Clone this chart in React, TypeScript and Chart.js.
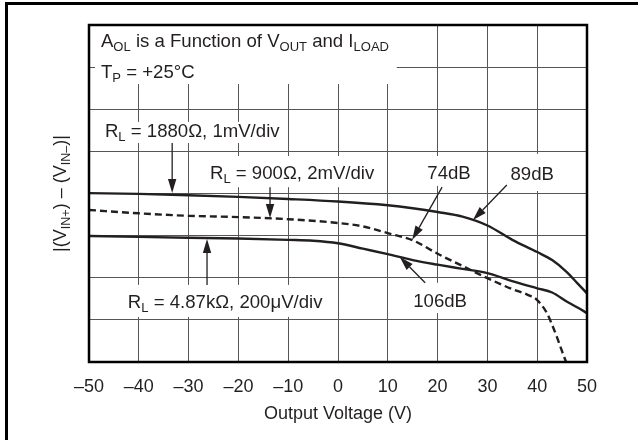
import React, { useEffect, useRef } from 'react';
import { Chart, registerables } from 'chart.js';

Chart.register(...registerables);

// ---- data (x = output voltage in V, y = divisions) ----
const xTicks = [-50, -40, -30, -20, -10, 0, 10, 20, 30, 40, 50];

const x89 = [-50, -40, -30, -20, -10, 0, 10, 15, 20, 25, 30, 35, 40, 43, 46, 48, 50];
const y89 = [4.01, 3.99, 3.96, 3.92, 3.87, 3.81, 3.72, 3.65, 3.56, 3.45, 3.24, 2.9, 2.61, 2.42, 2.13, 1.88, 1.63];

const x74 = [-50, -40, -30, -20, -10, 0, 5, 10, 15, 20, 25, 30, 35, 38, 40, 42, 43, 44, 45, 45.8];
const y74 = [3.61, 3.53, 3.47, 3.44, 3.39, 3.3, 3.22, 3.06, 2.89, 2.57, 2.28, 1.99, 1.73, 1.6, 1.47, 1.15, 0.88, 0.58, 0.25, 0];

const x106 = [-50, -40, -30, -20, -10, -5, 0, 5, 10, 15, 20, 25, 30, 35, 40, 43, 46, 48, 50];
const y106 = [2.99, 2.97, 2.95, 2.93, 2.9, 2.88, 2.82, 2.69, 2.56, 2.42, 2.31, 2.21, 2.11, 1.92, 1.75, 1.65, 1.43, 1.3, 1.16];

const FONT = '"Liberation Sans", Arial, Helvetica, sans-serif';
const INK = '#231f20';
const GRID = '#55565a';
const LABEL_SIZE = 18.6;

type Seg = { t: string; sub?: boolean };

// white boxes behind annotations: [x1, yTop, x2, yBottom] in data units
const boxes: number[][] = [
  [-48.8, 8, 11.8, 6.6],
  [-47.8, 5.7, -10.6, 5.2],
  [-26.7, 4.89, 8.4, 4.15],
  [15.5, 4.89, 28.1, 4.18],
  [33.5, 4.94, 44.6, 4.06],
  [14.5, 1.88, 26.5, 1.16],
  [-42.8, 1.83, -2.0, 1.07],
];

// annotation texts: x, y (data), align, segments
const labels: { x: number; y: number; align: 'left' | 'center'; segs: Seg[] }[] = [
  { x: -47.6, y: 7.64, align: 'left', segs: [{ t: 'A' }, { t: 'OL', sub: true }, { t: ' is a Function of V' }, { t: 'OUT', sub: true }, { t: ' and I' }, { t: 'LOAD', sub: true }] },
  { x: -47.6, y: 6.9, align: 'left', segs: [{ t: 'T' }, { t: 'P', sub: true }, { t: ' = +25°C' }] },
  { x: -46.8, y: 5.51, align: 'left', segs: [{ t: 'R' }, { t: 'L', sub: true }, { t: ' = 1880Ω, 1mV/div' }] },
  { x: -25.7, y: 4.51, align: 'left', segs: [{ t: 'R' }, { t: 'L', sub: true }, { t: ' = 900Ω, 2mV/div' }] },
  { x: 22.3, y: 4.51, align: 'center', segs: [{ t: '74dB' }] },
  { x: 39.0, y: 4.49, align: 'center', segs: [{ t: '89dB' }] },
  { x: 20.5, y: 1.47, align: 'center', segs: [{ t: '106dB' }] },
  { x: -42.2, y: 1.45, align: 'left', segs: [{ t: 'R' }, { t: 'L', sub: true }, { t: ' = 4.87kΩ, 200μV/div' }] },
];

// arrows: [xFrom, yFrom, xTip, yTip] in data units
const arrows: number[][] = [
  [-33.3, 5.2, -33.3, 4.01],
  [-13.65, 4.15, -13.65, 3.42],
  [20.9, 4.15, 14.9, 2.9],
  [33.9, 4.2, 27.1, 3.37],
  [17.5, 1.88, 12.4, 2.49],
  [-26.3, 1.83, -26.3, 2.92],
];

const yTitle: Seg[] = [{ t: '|(V' }, { t: 'IN+', sub: true }, { t: ') – (V' }, { t: 'IN–', sub: true }, { t: ')|' }];

function measureRich(ctx: CanvasRenderingContext2D, segs: Seg[], size: number) {
  let w = 0;
  for (const s of segs) {
    ctx.font = `${s.sub ? size * 0.7 : size}px ${FONT}`;
    w += ctx.measureText(s.t).width;
  }
  return w;
}

function drawRich(ctx: CanvasRenderingContext2D, segs: Seg[], x: number, yc: number, align: string, size = 18) {
  const w = measureRich(ctx, segs, size);
  let cx = align === 'center' ? x - w / 2 : x;
  const base = yc + size * 0.36;
  ctx.fillStyle = INK;
  ctx.textAlign = 'left';
  ctx.textBaseline = 'alphabetic';
  for (const s of segs) {
    ctx.font = `${s.sub ? size * 0.7 : size}px ${FONT}`;
    ctx.fillText(s.t, cx, s.sub ? base + 4 : base);
    cx += ctx.measureText(s.t).width;
  }
}

const decorPlugin = {
  id: 'decor',
  beforeDatasetsDraw(chart: any) {
    const { ctx, scales } = chart;
    const xs = scales.x, ys = scales.y;
    ctx.save();
    ctx.fillStyle = '#ffffff';
    for (const b of boxes) {
      const x1 = xs.getPixelForValue(b[0]);
      const x2 = xs.getPixelForValue(b[2]);
      const y1 = ys.getPixelForValue(b[1]);
      const y2 = ys.getPixelForValue(b[3]);
      ctx.fillRect(x1, y1, x2 - x1, y2 - y1);
    }
    ctx.restore();
  },
  afterDatasetsDraw(chart: any) {
    const { ctx, scales, chartArea } = chart;
    const xs = scales.x, ys = scales.y;
    ctx.save();
    // labels
    for (const l of labels) {
      drawRich(ctx, l.segs, xs.getPixelForValue(l.x), ys.getPixelForValue(l.y), l.align, LABEL_SIZE);
    }
    // arrows
    ctx.strokeStyle = INK;
    ctx.fillStyle = INK;
    ctx.lineWidth = 1.3;
    for (const a of arrows) {
      const x0 = xs.getPixelForValue(a[0]);
      const y0 = ys.getPixelForValue(a[1]);
      const x1 = xs.getPixelForValue(a[2]);
      const y1 = ys.getPixelForValue(a[3]);
      const ang = Math.atan2(y1 - y0, x1 - x0);
      const hl = 14, hw = 4.2;
      const bx = x1 - hl * Math.cos(ang);
      const by = y1 - hl * Math.sin(ang);
      ctx.beginPath();
      ctx.moveTo(x0, y0);
      ctx.lineTo(bx, by);
      ctx.stroke();
      ctx.beginPath();
      ctx.moveTo(x1, y1);
      ctx.lineTo(bx + hw * Math.sin(ang), by - hw * Math.cos(ang));
      ctx.lineTo(bx - hw * Math.sin(ang), by + hw * Math.cos(ang));
      ctx.closePath();
      ctx.fill();
    }
    // plot frame
    ctx.strokeStyle = '#000';
    ctx.lineWidth = 2.5;
    ctx.strokeRect(chartArea.left, chartArea.top, chartArea.right - chartArea.left, chartArea.bottom - chartArea.top);
    // y title
    ctx.translate(60, (chartArea.top + chartArea.bottom) / 2);
    ctx.rotate(-Math.PI / 2);
    drawRich(ctx, yTitle, 0, 0, 'center', 18);
    ctx.restore();
  },
  afterDraw(chart: any) {
    const { ctx, width, height } = chart;
    ctx.save();
    ctx.fillStyle = '#000';
    ctx.fillRect(5, 2, 3, height - 2);
    ctx.fillRect(5, 2, width - 5, 3);
    ctx.restore();
  },
};

export default function App() {
  const ref = useRef<HTMLCanvasElement | null>(null);
  useEffect(() => {
    if (!ref.current) return;
    const mk = (xs: number[], ys: number[]) => xs.map((x, i) => ({ x, y: ys[i] }));
    const chart = new Chart(ref.current, {
      type: 'line',
      data: {
        datasets: [
          { label: '89dB', data: mk(x89, y89), borderColor: INK, borderWidth: 2.4, pointRadius: 0, cubicInterpolationMode: 'monotone', fill: false },
          { label: '74dB', data: mk(x74, y74), borderColor: INK, borderWidth: 2.4, borderDash: [7, 4], pointRadius: 0, cubicInterpolationMode: 'monotone', fill: false },
          { label: '106dB', data: mk(x106, y106), borderColor: INK, borderWidth: 2.4, pointRadius: 0, cubicInterpolationMode: 'monotone', fill: false },
        ],
      },
      options: {
        animation: false,
        responsive: false,
        maintainAspectRatio: false,
        layout: { padding: { left: 89, right: 51, top: 25, bottom: 0 } },
        plugins: { legend: { display: false }, tooltip: { enabled: false } },
        scales: {
          x: {
            type: 'linear',
            min: -50,
            max: 50,
            afterFit: (s: any) => { s.height = 78; },
            afterBuildTicks: (s: any) => { s.ticks = xTicks.map((v) => ({ value: v })); },
            ticks: {
              color: INK,
              font: { family: FONT, size: 18 },
              padding: 14,
              maxRotation: 0,
              autoSkip: false,
              callback: (v: any) => (Number(v) < 0 ? '–' + Math.abs(Number(v)) : String(v)),
            },
            grid: { color: GRID, lineWidth: 1, drawTicks: false },
            border: { display: false },
            title: { display: true, text: 'Output Voltage (V)', color: INK, font: { family: FONT, size: 18 }, padding: { top: 0, bottom: 15 } },
          },
          y: {
            type: 'linear',
            min: 0,
            max: 8,
            afterFit: (s: any) => { s.width = 0; },
            ticks: { stepSize: 1, display: false },
            grid: { color: GRID, lineWidth: 1, drawTicks: false },
            border: { display: false },
          },
        },
      },
      plugins: [decorPlugin],
    } as any);
    return () => chart.destroy();
  }, []);
  return (
    <div style={{ position: 'absolute', left: 0, top: 0, width: 638, height: 440, background: '#fff' }}>
      <canvas ref={ref} width={638} height={440} style={{ display: 'block', width: 638, height: 440 }} />
    </div>
  );
}
